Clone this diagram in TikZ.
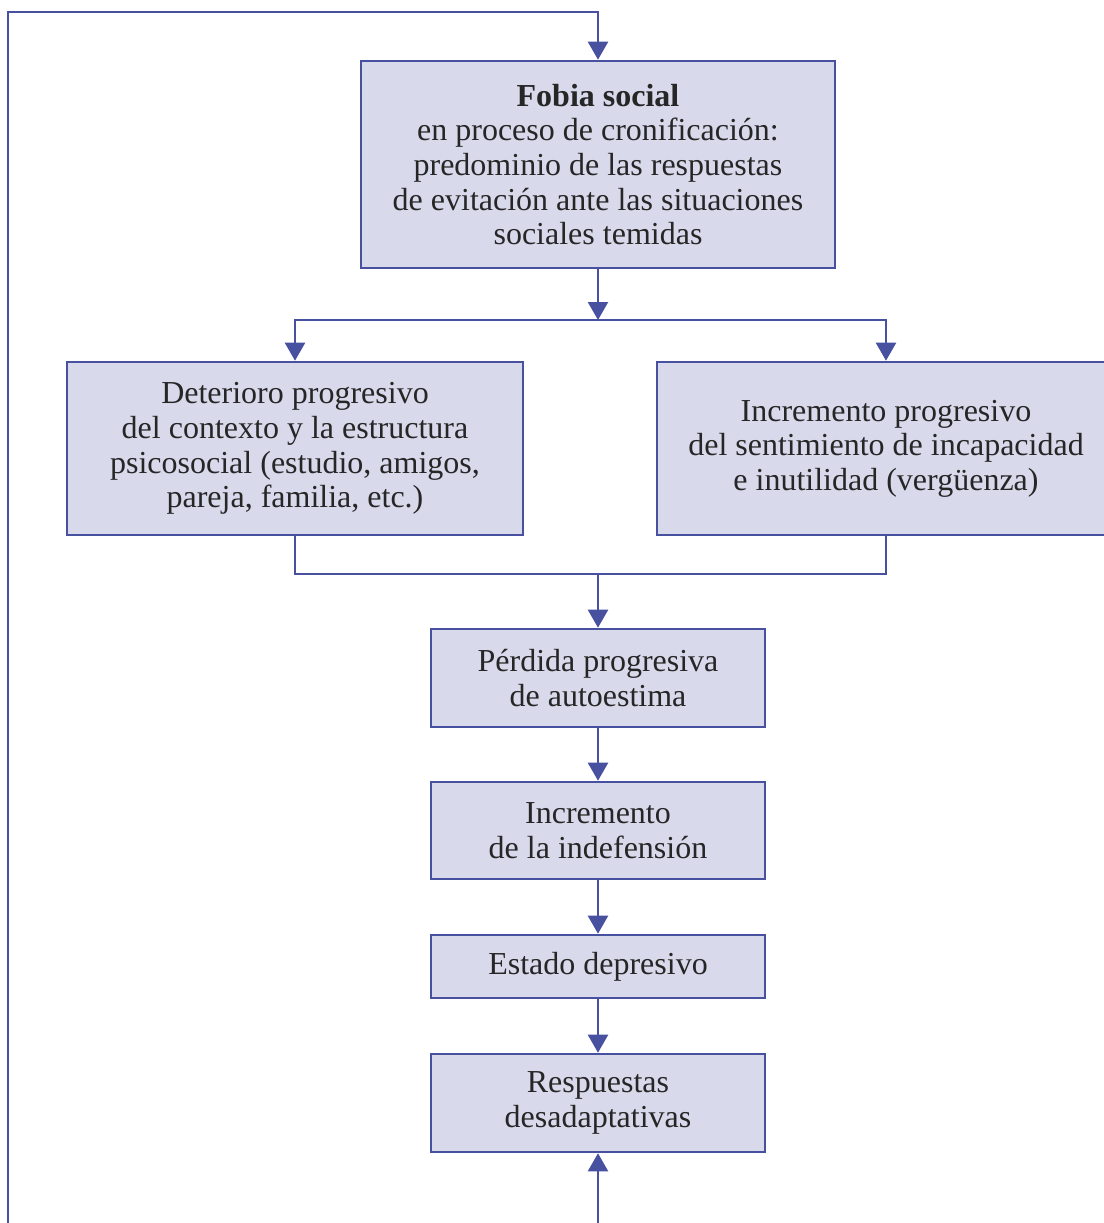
\documentclass[tikz,border=0pt]{standalone}
\usepackage{fontspec}
\setmainfont{Liberation Serif}
\usetikzlibrary{arrows.meta}
\definecolor{boxfill}{RGB}{216,218,236}
\definecolor{linec}{RGB}{72,80,160}
\begin{document}
\begin{tikzpicture}[x=0.5pt,y=-0.5pt,
  box/.style={draw=linec, fill=boxfill, line width=1.3pt, align=center,
    inner sep=0pt, font=\fontsize{16}{17.3}\selectfont, text=black!85},
  conn/.style={draw=linec, line width=1.1pt},
  arr/.style={conn, -{Triangle[width=10pt,length=9pt]}},
  arr2/.style={conn, {Triangle[width=10pt,length=9pt]}-{Triangle[width=10pt,length=9pt]}}]
\useasboundingbox (0,0) rectangle (1104,1223);
\clip (0,0) rectangle (1104,1223);
\fill[white] (0,0) rectangle (1104,1223);

% boxes
\node[box, minimum width=237pt, minimum height=103.5pt] (fobia) at (598,164.5)
  {\textbf{Fobia social}\\en proceso de cronificación:\\predominio de las respuestas\\de evitación ante las situaciones\\sociales temidas};
\node[box, minimum width=228pt, minimum height=86.5pt] (left) at (295,448.5)
  {Deterioro progresivo\\del contexto y la estructura\\psicosocial (estudio, amigos,\\pareja, familia, etc.)};
\node[box, minimum width=229pt, minimum height=86.5pt] (right) at (886,448.5)
  {Incremento progresivo\\del sentimiento de incapacidad\\e inutilidad (vergüenza)};
\node[box, minimum width=167pt, minimum height=49pt] (perd) at (598,678)
  {Pérdida progresiva\\de autoestima};
\node[box, minimum width=167pt, minimum height=48.5pt] (indef) at (598,830.5)
  {Incremento\\de la indefensión};
\node[box, minimum width=167pt, minimum height=31.5pt] (dep) at (598,966.5)
  {Estado depresivo};
\node[box, minimum width=167pt, minimum height=49pt] (resp) at (598,1103)
  {Respuestas\\desadaptativas};

% junctions and loop ends
\coordinate (j1) at (598,320);
\coordinate (j2) at (598,574);
\coordinate (loopL) at (8,1240);
\coordinate (loopB) at (598,1240);

% feedback loop
\draw[arr] (loopL) -- (8,12) -- (598,12) -- (fobia.north);
\draw[arr] (loopB) -- (resp.south);

% split
\draw[arr] (fobia.south) -- (j1);
\draw[arr2] (left.north) -- (left.north |- j1) -- (right.north |- j1) -- (right.north);

% merge
\draw[conn] (left.south) -- (left.south |- j2) -- (right.south |- j2) -- (right.south);
\draw[arr] (j2) -- (perd.north);

% chain
\draw[arr] (perd.south) -- (indef.north);
\draw[arr] (indef.south) -- (dep.north);
\draw[arr] (dep.south) -- (resp.north);
\end{tikzpicture}
\end{document}
